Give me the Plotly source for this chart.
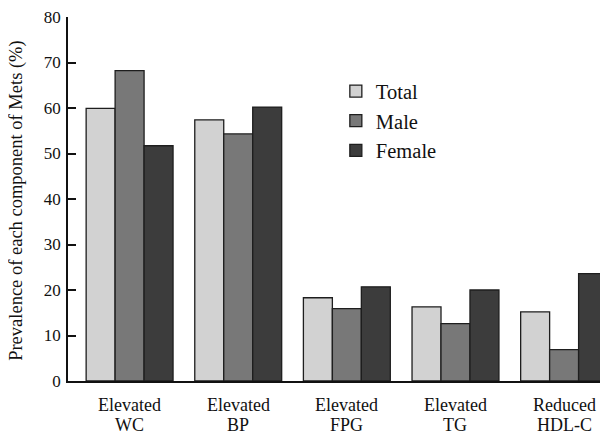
import plotly.graph_objects as go

categories = ["WC", "BP", "FPG", "TG", "HDL-C"]
label_line1 = ["Elevated", "Elevated", "Elevated", "Elevated", "Reduced"]
label_line2 = ["WC", "BP", "FPG", "TG", "HDL-C"]
total = [59.9, 57.4, 18.3, 16.3, 15.2]
male = [68.2, 54.3, 15.9, 12.6, 6.9]
female = [51.7, 60.2, 20.7, 20.0, 23.6]
y_ticks = [0, 10, 20, 30, 40, 50, 60, 70, 80]
y_title = "Prevalence of each component of Mets (%)"

FONT = "Liberation Serif, Times New Roman, serif"

fig = go.Figure()
for name, vals, col in [("Total", total, "#d2d2d2"), ("Male", male, "#787878"), ("Female", female, "#3c3c3c")]:
    fig.add_trace(go.Bar(name=name, x=categories, y=vals,
                         marker=dict(color=col, line=dict(color="#1e1e1e", width=1.3))))

# two-line category labels (tight line spacing as in the reference)
for cat, l1, l2 in zip(categories, label_line1, label_line2):
    fig.add_annotation(x=cat, y=0, xref="x", yref="paper", text=l1, showarrow=False,
                       yanchor="middle", yshift=-24, font=dict(size=18, family=FONT, color="#111"))
    fig.add_annotation(x=cat, y=0, xref="x", yref="paper", text=l2, showarrow=False,
                       yanchor="middle", yshift=-44, font=dict(size=18, family=FONT, color="#111"))

# y-axis title
fig.add_annotation(x=-0.0944, y=0.495, xref="paper", yref="paper", text=y_title, textangle=-90,
                   showarrow=False, xanchor="center", yanchor="middle",
                   font=dict(size=18.5, family=FONT, color="#111"))

fig.update_layout(
    width=600, height=424,
    margin=dict(l=60, r=0, t=9, b=51),
    paper_bgcolor="white", plot_bgcolor="white",
    barmode="group", bargap=0.2, bargroupgap=0,
    font=dict(family=FONT, size=17, color="#111"),
    showlegend=True,
    legend=dict(x=0.496, y=0.851, xanchor="left", yanchor="top", bgcolor="rgba(0,0,0,0)",
                font=dict(size=20.5, family=FONT), tracegroupgap=0, itemwidth=30),
    xaxis=dict(range=[-0.567, 4.404], showline=True, linecolor="#111", linewidth=1.5,
               ticks="", showgrid=False, showticklabels=False),
    yaxis=dict(range=[0, 80], tickvals=y_ticks, showline=True, linecolor="#111", linewidth=1.5,
               ticks="inside", ticklen=8, tickwidth=1.5, tickcolor="#111", showgrid=False, zeroline=False,
               tickfont=dict(size=17, family=FONT), ticklabelstandoff=2, ticklabeloverflow="allow"),
)
fig.write_html("out.html")
